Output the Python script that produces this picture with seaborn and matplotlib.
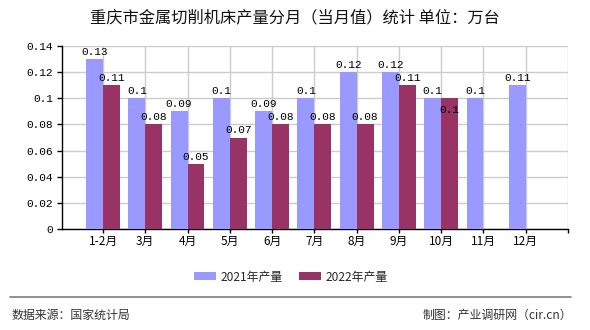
import numpy as np
import pandas as pd
import matplotlib
matplotlib.use("Agg")
import matplotlib.pyplot as plt
from matplotlib.lines import Line2D
from matplotlib.ticker import MultipleLocator, FuncFormatter, FixedLocator
import seaborn as sns

# ---- data ----
months = ["1-2月", "3月", "4月", "5月", "6月", "7月", "8月", "9月", "10月", "11月", "12月"]
prod_2021 = [0.13, 0.10, 0.09, 0.10, 0.09, 0.10, 0.12, 0.12, 0.10, 0.10, 0.11]
prod_2022 = [0.11, 0.08, 0.05, 0.07, 0.08, 0.08, 0.08, 0.11, 0.10, np.nan, np.nan]
series_names = ["2021年产量", "2022年产量"]
title = "重庆市金属切削机床产量分月（当月值）统计 单位：万台"
source_left = "数据来源：国家统计局"
source_right = "制图：产业调研网（cir.cn）"

df = pd.DataFrame({
    "month": months * 2,
    "value": prod_2021 + prod_2022,
    "series": [series_names[0]] * len(months) + [series_names[1]] * len(months),
})

sns.set_theme(style="white")
plt.rcParams["font.family"] = ["Noto Sans CJK SC", "DejaVu Sans"]

W, H = 590, 330
fig = plt.figure(figsize=(W / 100, H / 100), dpi=100)
ax = fig.add_axes([62 / W, 1 - 229 / H, (568 - 62) / W, (229 - 46) / H])

sns.barplot(data=df, x="month", y="value", hue="series", order=months,
            hue_order=series_names, palette=["#9999FF", "#993366"],
            width=0.8, saturation=1, linewidth=0, edgecolor="none", ax=ax, zorder=3)

ax.set_xlim(-0.97, len(months))
ax.set_ylim(0, 0.14)
ax.set_xlabel("")
ax.set_ylabel("")

# grid & spines
ax.yaxis.set_major_locator(MultipleLocator(0.02))
ax.yaxis.set_major_formatter(FuncFormatter(lambda v, p: f"{v:g}"))
ax.xaxis.set_major_locator(FixedLocator(list(range(len(months)))))
ax.set_xticklabels(months)
ax.xaxis.set_minor_locator(FixedLocator([len(months)]))
ax.grid(True, which="both", axis="both", color="#cccccc", lw=1.0, zorder=0)
ax.set_axisbelow(True)
for s in ["top", "right"]:
    ax.spines[s].set_visible(False)
for s in ["left", "bottom"]:
    ax.spines[s].set_color("black")
    ax.spines[s].set_linewidth(1.0)
ax.tick_params(axis="y", which="both", left=True, length=3.6, width=1, color="black",
               pad=3.0, labelsize=8.0, labelcolor="black")
ax.tick_params(axis="x", which="both", bottom=True, length=3, width=1, color="black",
               pad=1.5, labelsize=8.5, labelcolor="black")
for t in ax.get_yticklabels():
    t.set_fontfamily("Liberation Mono")

# value labels
for ci, cont in enumerate(ax.containers):
    anns = ax.bar_label(cont, fmt="{:g}", padding=1.5, fontsize=8.0,
                        fontfamily="Liberation Mono", color="black")
    if ci == 1:
        # the 10月 2022 label sits inside the bar in the reference
        idx = months.index("10月")
        if idx < len(anns):
            anns[idx].xyann = (0, -12)

# legend
leg = ax.get_legend()
handles = leg.legend_handles
labels = [t.get_text() for t in leg.get_texts()]
leg.remove()
for h in handles:
    h.set_edgecolor("none")
    h.set_linewidth(0)
fig.legend(handles, labels, loc="center", bbox_to_anchor=(291 / W, 1 - 277 / H),
           ncol=2, frameon=False, fontsize=8.6, handlelength=1.84, handleheight=0.67,
           handletextpad=0.42, columnspacing=1.34, borderpad=0)

# title & footer
fig.text(295 / W, 1 - 17.5 / H, title, ha="center", va="center", fontsize=11.7, color="#111111")
fig.add_artist(Line2D([10 / W, 571 / W], [1 - 297 / H, 1 - 297 / H], color="#888888", lw=1.3))
fig.text(12 / W, 1 - 315 / H, source_left, ha="left", va="center", fontsize=8.6, color="#333333")
fig.text(572 / W, 1 - 315 / H, source_right, ha="right", va="center", fontsize=8.6, color="#333333")

fig.savefig("out.png", dpi=100, facecolor="white")
